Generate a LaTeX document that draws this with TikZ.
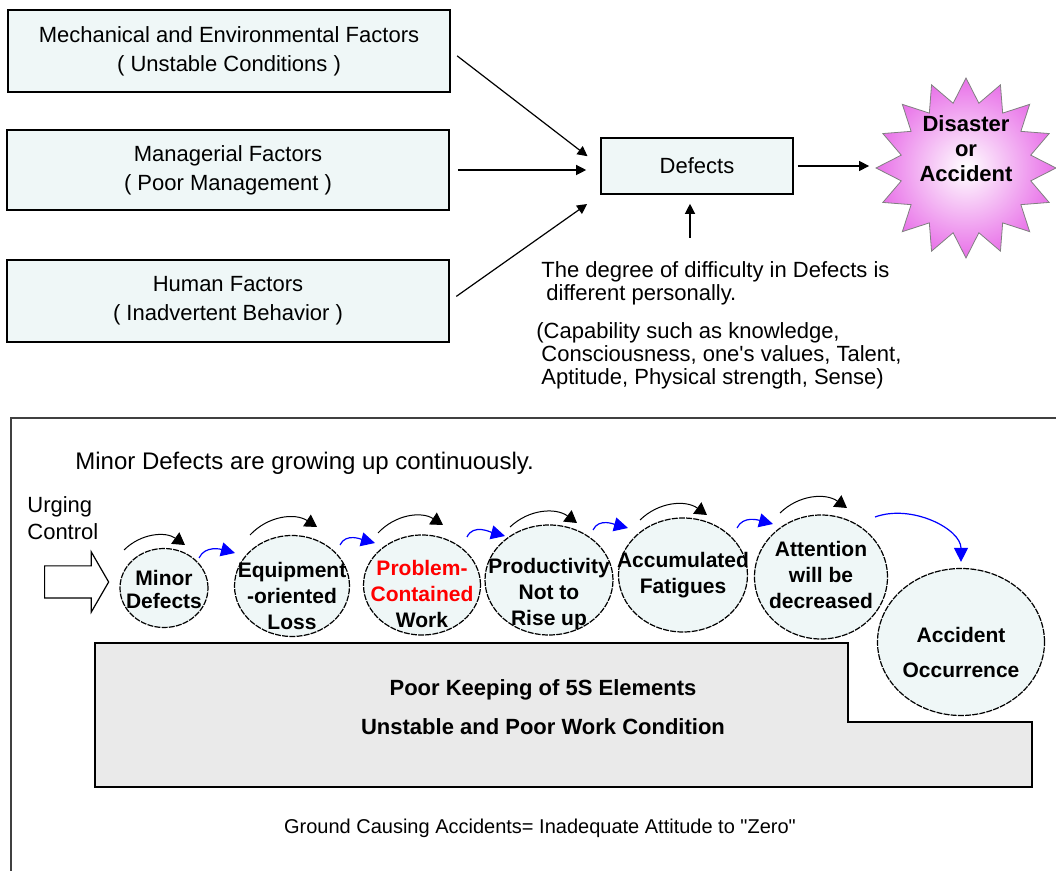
\documentclass[tikz,border=0pt]{standalone}
\usepackage{fontspec}
\setmainfont{Liberation Sans}
\usetikzlibrary{shapes.geometric,shapes.symbols,shapes.arrows,arrows.meta}
\definecolor{boxfill}{RGB}{239,247,247}
\definecolor{burst}{RGB}{232,112,232}
\definecolor{ground}{RGB}{234,234,234}
\definecolor{frame}{RGB}{64,64,64}
\begin{document}
\begin{tikzpicture}[x=0.5pt, y=-0.5pt,
  factor/.style={draw, fill=boxfill, line width=0.8pt, minimum width=221pt, minimum height=41pt, align=center, font=\fontsize{11}{14.5}\selectfont},
  arr/.style={-{Triangle[length=5pt,width=5pt]}, line width=0.6pt},
  plain/.style={inner sep=0pt, font=\fontsize{11}{11.5}\selectfont},
  bub/.style={ellipse, draw, fill=boxfill, line width=0.6pt, dash pattern=on 3pt off 0.6pt, inner sep=0pt},
  bubtext/.style={align=center, inner sep=0pt, font=\fontsize{10.5}{13}\selectfont\bfseries},
  turn/.style={-{Triangle[length=6pt,width=7pt]}, line width=0.5pt, bend left=40},
  pass/.style={-{Triangle[length=7pt,width=7pt]}, blue, line width=0.6pt}]
\useasboundingbox (0,0) rectangle (1056,871);

% factors and defects
\node[factor] (f1) at (229,51) {Mechanical and Environmental Factors\\( Unstable Conditions )};
\node[factor, minimum height=40pt] (f2) at (228,170) {Managerial Factors\\( Poor Management )};
\node[factor] (f3) at (228,301) {Human Factors\\( Inadvertent Behavior )};
\node[draw, fill=boxfill, line width=0.8pt, minimum width=96pt, minimum height=28pt, font=\fontsize{11}{13}\selectfont] (def) at (697,166) {Defects};
\node[starburst, starburst points=16, starburst point height=12pt, random starburst=0, draw=gray, shading=radial, inner color=white, outer color=burst, minimum width=90pt, minimum height=90pt] (dis) at (966,168) {};
\node[align=center, inner sep=0pt, font=\fontsize{11}{12.5}\selectfont\bfseries] (distext) at (966,149) {Disaster\\or\\Accident};

\draw[arr, shorten <=4pt, shorten >=8pt] (f1.east) -- (def.west);
\draw[arr, shorten <=4pt, shorten >=7pt] (f2.east) -- (f2.east -| def.west);
\draw[arr, shorten <=4pt, shorten >=8pt] (f3.east) -- (def.south west);
\draw[arr, shorten <=2pt, shorten >=3pt] (def.east) -- (def.east -| dis.west);

\node[plain, anchor=north west, align=left] (n1) at (541,261) {The degree of difficulty in Defects is\\\hspace{2.5pt}different personally.};
\node[plain, anchor=north west, align=left] (n2) at (536,322) {(Capability such as knowledge,\\\hspace{2.5pt}Consciousness, one\textquotesingle s values, Talent,\\\hspace{2.5pt}Aptitude, Physical strength, Sense)};
\coordinate (nb) at (690,238);
\draw[arr, shorten >=4.5pt] (nb) -- (nb |- def.south);

% growing defects
\draw[frame, line width=1pt] (11,871) -- (11,418) -- (1056,418);
\node[plain, anchor=west, font=\fontsize{12}{14}\selectfont] (grow) at (75,463) {Minor Defects are growing up continuously.};
\node[plain, anchor=west, align=left, font=\fontsize{11}{13.5}\selectfont] (urg) at (27,518) {Urging\\Control};
\node[single arrow, draw, fill=white, line width=0.6pt, minimum height=32pt, inner xsep=0pt, inner ysep=7.75pt, single arrow head extend=7pt, single arrow tip angle=120] (push) at (72,582) {};

\node[bub, minimum width=44pt, minimum height=39.5pt] (c1) at (164,588) {};
\node[bub, minimum width=57.5pt, minimum height=50.5pt] (c2) at (292,586) {};
\node[bub, minimum width=58.5pt, minimum height=50pt] (c3) at (422,585) {};
\node[bub, minimum width=64pt, minimum height=55pt] (c4) at (549,580) {};
\node[bub, minimum width=64.5pt, minimum height=57pt] (c5) at (683,575) {};
\node[bub, minimum width=66.5pt, minimum height=62pt] (c6) at (821,577) {};
\node[bub, minimum width=83.5pt, minimum height=73.5pt] (c7) at (961,642) {};

\node[bubtext, font=\fontsize{10.5}{11.5}\selectfont\bfseries] (t1) at (164,589) {Minor\\Defects};
\node[bubtext] (t2) at (292,596) {Equipment\\-oriented\\Loss};
\node[bubtext] (t3) at (422,594) {\textcolor{red}{Problem-}\\\textcolor{red}{Contained}\\Work};
\node[bubtext] (t4) at (549,594) {Productivity\\Not to\\Rise up};
\node[bubtext] (t5) at (683,575) {Accumulated\\Fatigues};
\node[bubtext] (t6) at (821,575) {Attention\\will be\\decreased};
\node[bubtext, font=\fontsize{10.5}{17.5}\selectfont\bfseries] (t7) at (961,652) {Accident\\Occurrence};

\draw[turn] ([shift={(-40,-38)}]c1.center) to ([shift={(21,-43)}]c1.center);
\draw[turn] ([shift={(-42,-51)}]c2.center) to ([shift={(25,-59)}]c2.center);
\draw[turn] ([shift={(-44,-52)}]c3.center) to ([shift={(21,-60)}]c3.center);
\draw[turn] ([shift={(-39,-53)}]c4.center) to ([shift={(28,-57)}]c4.center);
\draw[turn] ([shift={(-43,-55)}]c5.center) to ([shift={(24,-60)}]c5.center);
\draw[turn] ([shift={(-41,-64)}]c6.center) to ([shift={(26,-69)}]c6.center);

\draw[pass] ([shift={(35,-30)}]c1.center) to[out=65, in=165] ([shift={(-57,-33)}]c2.center);
\draw[pass] ([shift={(48,-41)}]c2.center) to[out=65, in=165] ([shift={(-47,-42)}]c3.center);
\draw[pass] ([shift={(45,-48)}]c3.center) to[out=65, in=165] ([shift={(-44,-44)}]c4.center);
\draw[pass] ([shift={(44,-50)}]c4.center) to[out=65, in=165] ([shift={(-55,-47)}]c5.center);
\draw[pass] ([shift={(54,-47)}]c5.center) to[out=65, in=165] ([shift={(-48,-53)}]c6.center);
\draw[pass, shorten >=3pt] ([shift={(54,-60)}]c6.center) to[out=20, in=90] (c7.north);

\draw[fill=ground, line width=0.8pt] (95,643) -- (848,643) -- (848,722) -- (1032,722) -- (1032,787) -- (95,787) -- cycle;
\node[plain, font=\fontsize{11}{13}\selectfont\bfseries] (g1) at (543,690) {Poor Keeping of 5S Elements};
\node[plain, font=\fontsize{11}{13}\selectfont\bfseries] (g2) at (543,727) {Unstable and Poor Work Condition};
\node[plain, font=\fontsize{10}{12}\selectfont] (zero) at (540,828) {Ground Causing Accidents= Inadequate Attitude to \textquotedbl Zero\textquotedbl};
\end{tikzpicture}
\end{document}
